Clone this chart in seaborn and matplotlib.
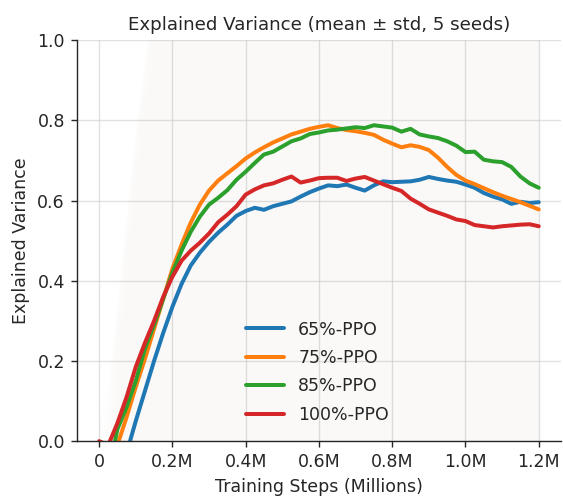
import numpy as np
import matplotlib
matplotlib.use("Agg")
import matplotlib.pyplot as plt
import seaborn as sns
from matplotlib.ticker import FuncFormatter

# training steps in millions
steps = [0.0, 0.025, 0.05, 0.075, 0.1, 0.125, 0.15, 0.175, 0.2, 0.225,
         0.25, 0.275, 0.3, 0.325, 0.35, 0.375, 0.4, 0.425, 0.45, 0.475,
         0.5, 0.525, 0.55, 0.575, 0.6, 0.625, 0.65, 0.675, 0.7, 0.725,
         0.75, 0.775, 0.8, 0.825, 0.85, 0.875, 0.9, 0.925, 0.95, 0.975,
         1.0, 1.025, 1.05, 1.075, 1.1, 1.125, 1.15, 1.175, 1.2]

ev_65 = [-0.45, -0.3, -0.15, -0.03, 0.05, 0.125, 0.2, 0.27, 0.335, 0.392,
         0.438, 0.47, 0.497, 0.52, 0.54, 0.562, 0.574, 0.582, 0.577, 0.586,
         0.592, 0.598, 0.61, 0.621, 0.63, 0.638, 0.636, 0.64, 0.632, 0.625,
         0.638, 0.648, 0.646, 0.647, 0.648, 0.652, 0.659, 0.654, 0.65, 0.647,
         0.64, 0.632, 0.619, 0.61, 0.603, 0.592, 0.597, 0.594, 0.596]
ev_75 = [-0.35, -0.2, -0.01, 0.06, 0.135, 0.205, 0.28, 0.355, 0.43, 0.49,
         0.545, 0.59, 0.625, 0.65, 0.668, 0.686, 0.705, 0.72, 0.733, 0.745,
         0.755, 0.765, 0.772, 0.779, 0.784, 0.788, 0.781, 0.776, 0.773, 0.769,
         0.764, 0.752, 0.742, 0.733, 0.738, 0.734, 0.726, 0.707, 0.684, 0.664,
         0.65, 0.641, 0.631, 0.621, 0.612, 0.604, 0.596, 0.587, 0.578]
ev_85 = [-0.3, -0.08, 0.03, 0.085, 0.15, 0.23, 0.29, 0.355, 0.42, 0.475,
         0.522, 0.56, 0.59, 0.607, 0.626, 0.652, 0.672, 0.694, 0.715, 0.722,
         0.735, 0.748, 0.755, 0.766, 0.77, 0.775, 0.777, 0.78, 0.783, 0.781,
         0.788, 0.785, 0.782, 0.772, 0.779, 0.765, 0.76, 0.756, 0.748, 0.737,
         0.721, 0.722, 0.702, 0.698, 0.696, 0.684, 0.66, 0.643, 0.632]
ev_100 = [0.0, -0.01, 0.045, 0.11, 0.185, 0.245, 0.3, 0.36, 0.41, 0.45,
          0.475, 0.495, 0.518, 0.546, 0.565, 0.586, 0.615, 0.628, 0.638, 0.643,
          0.652, 0.66, 0.645, 0.65, 0.656, 0.657, 0.657, 0.649, 0.655, 0.659,
          0.65, 0.641, 0.632, 0.624, 0.605, 0.592, 0.578, 0.57, 0.562, 0.553,
          0.549, 0.539, 0.536, 0.533, 0.536, 0.538, 0.54, 0.541, 0.536]

# spread across seeds (very wide, drawn faintly)
seed_std = [0.05, 0.15, 0.3, 0.45, 0.6, 0.7, 0.8, 0.85, 0.9, 0.9,
            0.92, 0.9, 0.93, 0.95, 0.92, 0.9, 0.94, 0.96, 0.93, 0.9,
            0.92, 0.95, 0.93, 0.9, 0.91, 0.94, 0.96, 0.92, 0.9, 0.93,
            0.95, 0.92, 0.9, 0.93, 0.96, 0.94, 0.91, 0.9, 0.93, 0.95,
            0.92, 0.9, 0.94, 0.96, 0.93, 0.9, 0.92, 0.95, 0.93]

labels = ['65%-PPO', '75%-PPO', '85%-PPO', '100%-PPO']
series = [ev_65, ev_75, ev_85, ev_100]
colors = ['#1f77b4', '#ff7f0e', '#2ca02c', '#d62728']

sns.set_style("ticks")
fig, ax = plt.subplots(figsize=(563 / 125, 503 / 125), dpi=125)
fig.subplots_adjust(left=0.137, right=0.996, bottom=0.123, top=0.920)

for vals, lab, col in zip(series, labels, colors):
    mean = np.array(vals)
    std = np.array(seed_std)
    ax.fill_between(steps, mean - std, mean + std, color=col, alpha=0.009, linewidth=0)
    sns.lineplot(x=steps, y=vals, color=col, label=lab, linewidth=2.3, ax=ax)

ax.set_ylim(0, 1.0)
ax.set_xlim(-0.06, 1.26)
ax.set_xticks([0, 0.2, 0.4, 0.6, 0.8, 1.0, 1.2])
ax.xaxis.set_major_formatter(FuncFormatter(lambda v, _: '0' if abs(v) < 1e-9 else f'{v:.1f}M'))
ax.grid(True, color='#cccccc', alpha=0.6, linewidth=0.8)
sns.despine(ax=ax)

ax.set_xlabel('Training Steps (Millions)')
ax.set_ylabel('Explained Variance')
ax.set_title('Explained Variance (mean ± std, 5 seeds)', fontsize=10.5)
ax.legend(loc='center', bbox_to_anchor=(0.497, 0.172), frameon=False,
          handlelength=2.2, labelspacing=0.6)

plt.savefig('out.png', dpi=125)
